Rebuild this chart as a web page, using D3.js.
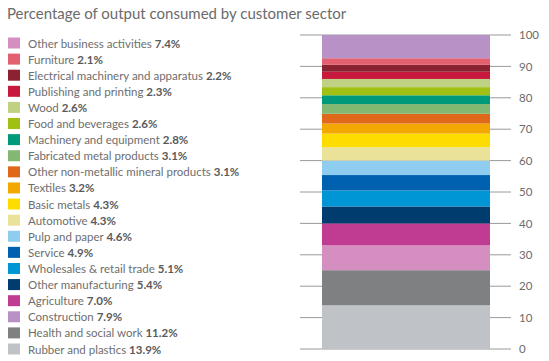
<!DOCTYPE html>
<html>
<head>
<meta charset="utf-8">
<script src="https://cdn.jsdelivr.net/npm/d3@7"></script>
<style>
  body { margin: 0; background: #fff; }
  svg text { font-family: Lato, "Open Sans", sans-serif; }
</style>
</head>
<body>
<div class="chart"></div>
<script>
// Chart size
const w = 549;
const h = 361;

// Sectors as listed in the legend (top to bottom)
const sectors = [
  "Other business activities", "Furniture", "Electrical machinery and apparatus",
  "Publishing and printing", "Wood", "Food and beverages", "Machinery and equipment",
  "Fabricated metal products", "Other non-metallic mineral products", "Textiles",
  "Basic metals", "Automotive", "Pulp and paper", "Service", "Wholesales & retail trade",
  "Other manufacturing", "Agriculture", "Construction", "Health and social work",
  "Rubber and plastics"
];
const shares = [7.4, 2.1, 2.2, 2.3, 2.6, 2.6, 2.8, 3.1, 3.1, 3.2,
                4.3, 4.3, 4.6, 4.9, 5.1, 5.4, 7.0, 7.9, 11.2, 13.9];
const swatchColors = [
  "#d48fc0", "#e2606f", "#8a2232", "#c9183d", "#bfd283", "#a0c014", "#00997a",
  "#82b872", "#e0681a", "#f2a800", "#ffdc00", "#ebe29a", "#8ecdf0", "#0061b0",
  "#0096d6", "#003c6e", "#c03c92", "#b891c6", "#7f8082", "#bfc3c7"
];
const yTicks = [0, 10, 20, 30, 40, 50, 60, 70, 80, 90, 100];

const svg = d3.select(".chart").append("svg")
  .attr("width", w)
  .attr("height", h);

// Title
svg.append("text")
  .attr("x", 7)
  .attr("y", 19)
  .attr("fill", "#6b6b6b")
  .style("font-size", "15px")
  .text("Percentage of output consumed by customer sector");

// Legend
const rowY = d3.scaleLinear().domain([0, 19]).range([37.5, 343.5]);
const legend = svg.selectAll(".leg")
  .data(sectors)
  .enter()
  .append("g")
  .attr("class", "leg")
  .attr("transform", (d, i) => "translate(8," + rowY(i) + ")");

legend.append("rect")
  .attr("width", 12)
  .attr("height", 11)
  .attr("fill", (d, i) => swatchColors[i]);

const lbl = legend.append("text")
  .attr("x", 20)
  .attr("y", 10)
  .style("font-size", "11.5px")
  .attr("fill", "#6e6e6e");
lbl.append("tspan").text(d => d + " ");
lbl.append("tspan")
  .attr("font-weight", "bold")
  .attr("fill", "#5a5a5a")
  .text((d, i) => shares[i].toFixed(1) + "%");

// Stacked bar, bottom-up (reverse of legend order)
const y = d3.scaleLinear().domain([0, 100]).range([349, 35]);
const x0 = 322, x1 = 490;

// tick lines run behind the bar
svg.selectAll(".tick-line")
  .data(yTicks)
  .enter()
  .append("line")
  .attr("x1", 300)
  .attr("x2", 511)
  .attr("y1", d => y(d))
  .attr("y2", d => y(d))
  .attr("stroke", "#9a9a9a")
  .attr("stroke-width", 1);

const stackOrder = d3.range(sectors.length).reverse();
let cum = 0;
const segs = stackOrder.map(i => {
  const s = { i: i, lo: cum, hi: cum + shares[i] };
  cum += shares[i];
  return s;
});

// the reference bar swaps the construction / other business colours
const barColor = i => i === 0 ? swatchColors[17] : (i === 17 ? swatchColors[0] : swatchColors[i]);

svg.selectAll(".seg")
  .data(segs)
  .enter()
  .append("rect")
  .attr("class", "seg")
  .attr("x", x0)
  .attr("width", x1 - x0)
  .attr("y", d => y(d.hi))
  .attr("height", d => y(d.lo) - y(d.hi))
  .attr("fill", d => barColor(d.i));

// axis labels on the right
const axis = d3.axisRight(y)
  .tickValues(yTicks)
  .tickSize(0)
  .tickPadding(0);
const ax = svg.append("g")
  .attr("transform", "translate(519,0)")
  .call(axis);
ax.select(".domain").remove();
ax.selectAll("text")
  .attr("fill", "#6b6b6b")
  .style("font-size", "11.5px")
  .style("font-family", "Lato, sans-serif");
</script>
</body>
</html>
